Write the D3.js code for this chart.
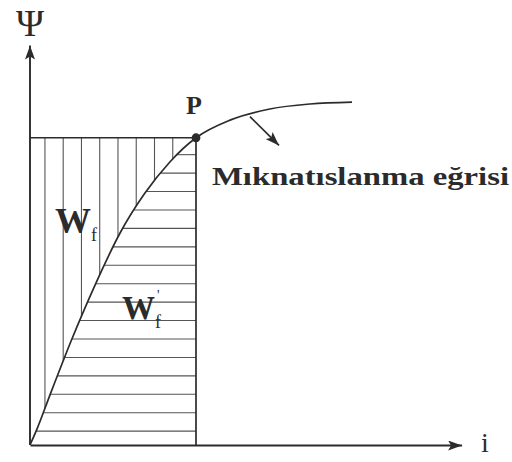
<!DOCTYPE html>
<html>
<head>
<meta charset="utf-8">
<script src="https://cdn.jsdelivr.net/npm/d3@7"></script>
<style>
  html, body { margin: 0; padding: 0; background: #fff; }
  svg { display: block; }
  text { font-family: "Liberation Serif", "DejaVu Serif", serif; fill: #2b2b2b; }
</style>
</head>
<body>
<script>
// Magnetisation curve Ψ(i) in arbitrary units
const curveI   = [0, 0.17, 0.48, 1.01, 1.57, 2.17, 2.77, 3.37, 4.0, 4.82, 5.78, 6.75, 7.76];
const curvePsi = [0, 0.42, 1.30, 2.76, 4.17, 5.52, 6.56, 7.37, 8.0, 8.46, 8.75, 8.88, 8.93];

// Operating point P
const pointP = { i: 4.0, psi: 8.0 };

// Axis extents
const iMax = 10.4;
const psiMax = 10.4;

// Hatching of the two energy areas
const hatchVStart = 0.36, hatchVStep = 0.44, hatchVCount = 8;   // vertical lines (W_f)
const hatchHStart = 0.36, hatchHStep = 0.48, hatchHCount = 16;  // horizontal lines (W'_f)

// Callout arrow for the curve label
const calloutFrom = { i: 5.3, psi: 8.55 };
const calloutTo   = { i: 6.0, psi: 7.8 };

const labels = {
  yAxis: "Ψ",
  xAxis: "i",
  point: "P",
  curve: "Mıknatıslanma eğrisi",
  coEnergy: "W",
  energy: "W"
};

const W = 512, H = 462;
const ink = "#2b2b2b";

const svg = d3.select("body").append("svg")
  .attr("width", W).attr("height", H);

const x = d3.scaleLinear().domain([0, iMax]).range([30, 461.6]);
const y = d3.scaleLinear().domain([0, psiMax]).range([445, 45.6]);

// Arrowhead marker
const defs = svg.append("defs");
defs.append("marker")
  .attr("id", "arrow")
  .attr("viewBox", "0 0 14 10")
  .attr("refX", 14).attr("refY", 5)
  .attr("markerWidth", 14).attr("markerHeight", 10)
  .attr("markerUnits", "userSpaceOnUse")
  .attr("orient", "auto")
  .append("path")
  .attr("d", "M0,0 L14,5 L0,10 L3,5 Z")
  .attr("fill", ink);

// Layers: hatching below, outlines above
const hatch = svg.append("g")
  .attr("stroke", "#555").attr("stroke-width", 1.1);
const fg = svg.append("g");

// Curve path (sampled afterwards for hatch intersections)
const pts = curveI.map((v, k) => [x(v), y(curvePsi[k])]);
const lineGen = d3.line().curve(d3.curveMonotoneX);
const curvePath = fg.append("path")
  .attr("d", lineGen(pts))
  .attr("fill", "none")
  .attr("stroke", ink)
  .attr("stroke-width", 1.7);

const node = curvePath.node();
const total = node.getTotalLength();
const samples = d3.range(0, total + 0.5, 0.5).map(l => node.getPointAtLength(l));

function curveYAtX(px) {
  let best = samples[0];
  for (const s of samples) if (Math.abs(s.x - px) < Math.abs(best.x - px)) best = s;
  return best.y;
}
function curveXAtY(py) {
  let best = samples[0];
  for (const s of samples) if (Math.abs(s.y - py) < Math.abs(best.y - py)) best = s;
  return best.x;
}

// Vertical hatching: between the top line Ψ_P and the curve
d3.range(hatchVCount).forEach(k => {
  const px = x(hatchVStart + k * hatchVStep);
  hatch.append("line")
    .attr("x1", px).attr("x2", px)
    .attr("y1", y(pointP.psi)).attr("y2", curveYAtX(px));
});

// Horizontal hatching: between the curve and the vertical line i_P
d3.range(hatchHCount).forEach(k => {
  const py = y(hatchHStart + k * hatchHStep);
  hatch.append("line")
    .attr("y1", py).attr("y2", py)
    .attr("x1", curveXAtY(py)).attr("x2", x(pointP.i));
});

// Boundary lines of the rectangle 0..i_P, 0..Ψ_P
const frame = fg.append("g").attr("stroke", ink).attr("stroke-width", 1.7);
frame.append("line")
  .attr("x1", x(0)).attr("x2", x(pointP.i))
  .attr("y1", y(pointP.psi)).attr("y2", y(pointP.psi));
frame.append("line")
  .attr("x1", x(pointP.i)).attr("x2", x(pointP.i))
  .attr("y1", y(pointP.psi)).attr("y2", y(0));

// Axes without ticks, domain lines ending in arrows
const xAxis = fg.append("g")
  .attr("transform", `translate(0,${y(0)})`)
  .call(d3.axisBottom(x).tickValues([]).tickSizeOuter(0));
const yAxis = fg.append("g")
  .attr("transform", `translate(${x(0)},0)`)
  .call(d3.axisLeft(y).tickValues([]).tickSizeOuter(0));
[xAxis, yAxis].forEach(g => g.select(".domain")
  .attr("stroke", ink).attr("stroke-width", 1.9)
  .attr("marker-end", "url(#arrow)"));
// the y domain path runs top to bottom; redraw it upward so the arrow points up
yAxis.select(".domain").attr("d", `M0,${y(0)}V${y(psiMax)}`);

// Point P
fg.append("circle")
  .attr("cx", x(pointP.i)).attr("cy", y(pointP.psi))
  .attr("r", 4.4).attr("fill", ink);

// Callout arrow
fg.append("line")
  .attr("x1", x(calloutFrom.i)).attr("y1", y(calloutFrom.psi))
  .attr("x2", x(calloutTo.i)).attr("y2", y(calloutTo.psi))
  .attr("stroke", ink).attr("stroke-width", 1.7)
  .attr("marker-end", "url(#arrow)");

// Texts
svg.append("text")
  .attr("x", x(0)).attr("y", 36)
  .attr("text-anchor", "middle")
  .attr("font-size", 38)
  .text(labels.yAxis);

svg.append("text")
  .attr("x", 485).attr("y", 452)
  .attr("text-anchor", "middle")
  .attr("font-size", 28)
  .text(labels.xAxis);

svg.append("text")
  .attr("x", x(pointP.i) - 2).attr("y", 114)
  .attr("text-anchor", "middle")
  .attr("font-size", 26).attr("font-weight", "bold")
  .text(labels.point);

svg.append("text")
  .attr("x", 212).attr("y", 185)
  .attr("font-size", 26).attr("font-weight", "bold")
  .attr("textLength", 297).attr("lengthAdjust", "spacingAndGlyphs")
  .text(labels.curve);

// W_f (area above the curve)
const wf = svg.append("text")
  .attr("x", 55).attr("y", 233)
  .attr("font-size", 36).attr("font-weight", "bold");
wf.append("tspan").text(labels.coEnergy);
wf.append("tspan").attr("font-size", 18).attr("font-weight", "normal").attr("dy", 8).attr("dx", 0).text("f");

// W'_f (area below the curve)
const wpf = svg.append("text")
  .attr("x", 122).attr("y", 319)
  .attr("font-size", 33).attr("font-weight", "bold");
wpf.append("tspan").text(labels.energy);
wpf.append("tspan").attr("font-size", 18).attr("font-weight", "normal").attr("dy", 9).attr("dx", 0).text("f");
wpf.append("tspan").attr("font-size", 14).attr("font-weight", "normal").attr("dy", -28).attr("dx", -4).text("'");
</script>
</body>
</html>
